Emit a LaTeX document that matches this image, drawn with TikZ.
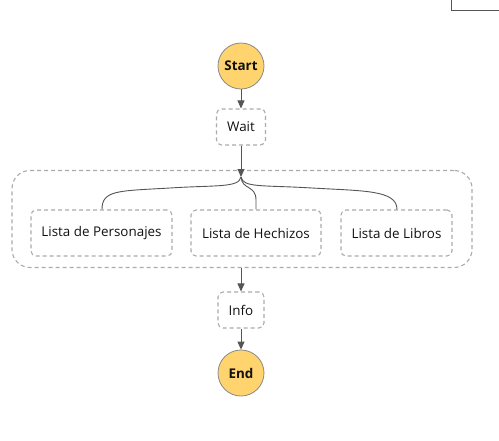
\documentclass[tikz,border=0pt]{standalone}
\usepackage{fontspec}
\setmainfont{Open Sans}
\usetikzlibrary{arrows.meta}
\definecolor{circfill}{HTML}{FFD36E}
\definecolor{circline}{HTML}{8A8A8A}
\definecolor{dashline}{HTML}{ABABAB}
\definecolor{arrowcol}{HTML}{555555}
\definecolor{textcol}{HTML}{111111}
\tikzset{
  termnode/.style={circle, draw=circline, fill=circfill, line width=0.8pt, minimum size=46pt, inner sep=0pt, font=\fontsize{13.4}{15}\selectfont\bfseries, text=textcol},
  statebox/.style={draw=dashline, dash pattern=on 4pt off 3pt, line width=1.1pt, rounded corners=5pt, minimum height=36pt, inner sep=0pt, font=\fontsize{13.4}{15}\selectfont, text=textcol},
  branchbox/.style={statebox, minimum height=46pt},
  parbox/.style={draw=dashline, dash pattern=on 4pt off 3pt, line width=1.1pt, rounded corners=18pt},
  flow/.style={draw=arrowcol, line width=0.9pt, -{Triangle[length=8pt,width=7pt]}},
  branch/.style={draw=arrowcol, line width=0.9pt}
}
\begin{document}
\begin{tikzpicture}[x=1pt,y=-1pt]
\useasboundingbox (0,0) rectangle (499,440);
% partial frame at top right
\draw[arrowcol, line width=0.8pt] (451,0) -- (451,10) -- (499,10);

\node[termnode] (start) at (241,66) {Start};
\node[statebox, minimum width=49pt] (wait) at (241,127) {Wait};
\node[parbox, minimum width=460pt, minimum height=97pt] (par) at (242,219) {};
\node[branchbox, minimum width=141pt] (pers) at (101.5,233) {Lista de Personajes};
\node[branchbox, minimum width=130pt] (hech) at (256,233) {Lista de Hechizos};
\node[branchbox, minimum width=111pt] (libr) at (396.5,233) {Lista de Libros};
\node[statebox, minimum width=46pt] (info) at (241,310) {Info};
\node[termnode] (end) at (241,373) {End};

\coordinate (fork) at (241,177);

\draw[flow] (start.south) -- (wait.north);
\draw[flow] (wait.south) -- (fork);
\draw[branch] (fork) .. controls (239,188) and (215,185) .. (170,188)
  .. controls (118,191) and (102,190) .. (pers.north -| 102,0);
\draw[branch] (fork) .. controls (243,188) and (263,185) .. (312,188)
  .. controls (364,191) and (397,190) .. (libr.north -| 397,0);
\draw[branch] (fork) .. controls (242,190) and (256,185) .. (256,200) -- (hech.north);
\draw[flow] (par.south -| info.north) -- (info.north);
\draw[flow] (info.south) -- (end.north);
\end{tikzpicture}
\end{document}
